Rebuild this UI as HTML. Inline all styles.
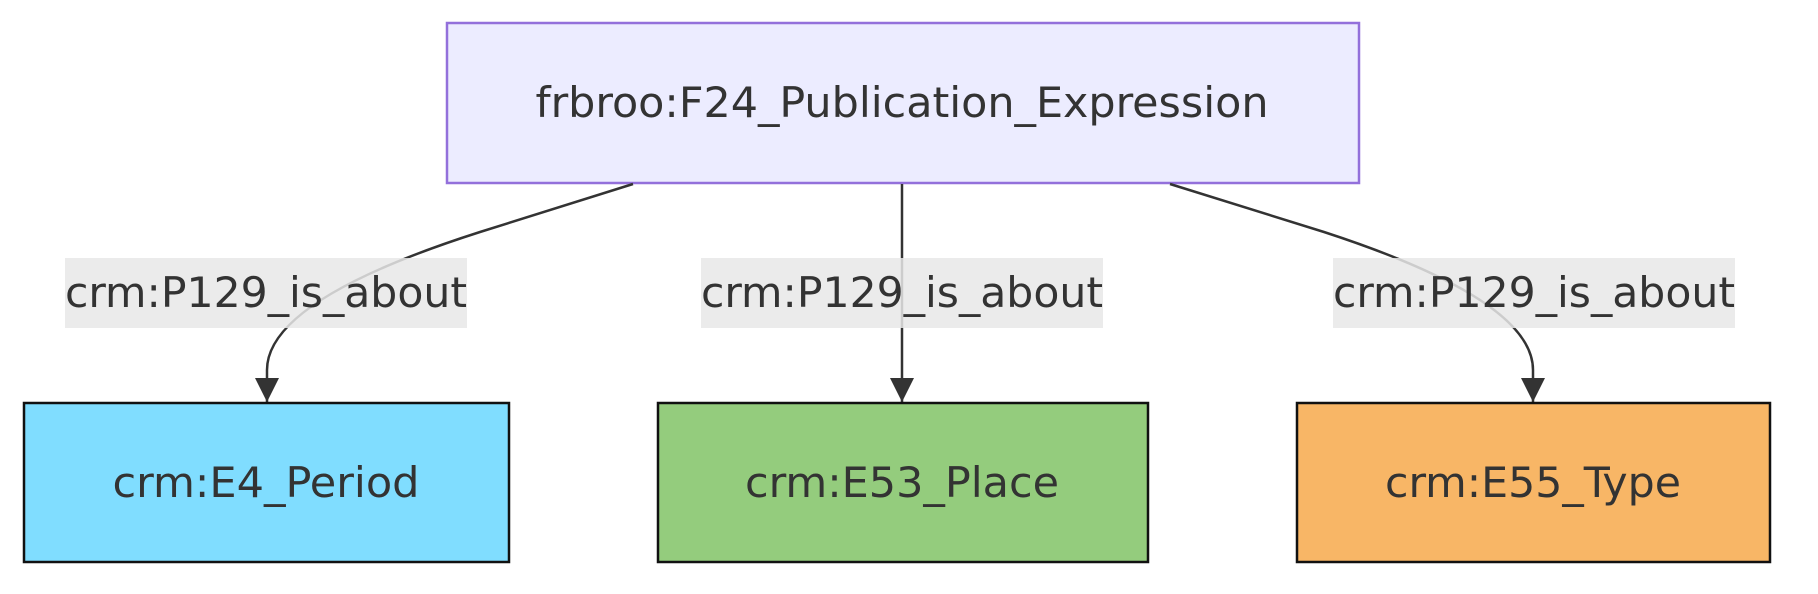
<!DOCTYPE html>
<html><head><meta charset="utf-8"><style>html,body{margin:0;padding:0;background:#fff;}svg{display:block}</style></head>
<body>
<svg width="1818" height="594" viewBox="0 0 1818 594" xmlns="http://www.w3.org/2000/svg" font-family="'DejaVu Sans Condensed', 'Liberation Sans', sans-serif" fill="#333">
<defs>
<marker id="b" viewBox="0 0 24 24" refX="24" refY="12" markerWidth="24" markerHeight="24" markerUnits="userSpaceOnUse" orient="auto"><path d="M0,0 L24,12 L0,24 z" fill="#333"/></marker></defs>
<rect x="447" y="23" width="912" height="160" fill="#ECECFF" stroke="#9370DB" stroke-width="2.5"/>
<text x="902" y="117" font-size="42" text-anchor="middle" textLength="733" lengthAdjust="spacingAndGlyphs">frbroo:F24_Publication_Expression</text>
<path d="M633,184 L480,232 Q267,300 267,370 L267,402" fill="none" stroke="#333" stroke-width="2.5" marker-end="url(#b)"/>
<path d="M902,184 L902,402" fill="none" stroke="#333" stroke-width="2.5" marker-end="url(#b)"/>
<path d="M1170,184 L1324,232 Q1533,300 1533,370 L1533,402" fill="none" stroke="#333" stroke-width="2.5" marker-end="url(#b)"/>
<g fill="rgba(232,232,232,0.85)"><rect x="65" y="258" width="402" height="70"/><rect x="701" y="258" width="402" height="70"/><rect x="1333" y="258" width="402" height="70"/></g>
<g font-size="42" text-anchor="middle">
<text x="266" y="307" textLength="402" lengthAdjust="spacingAndGlyphs">crm:P129_is_about</text>
<text x="902" y="307" textLength="402" lengthAdjust="spacingAndGlyphs">crm:P129_is_about</text>
<text x="1534" y="307" textLength="402" lengthAdjust="spacingAndGlyphs">crm:P129_is_about</text>
</g>
<rect x="24" y="403" width="485" height="159" fill="#80DDFF" stroke="#111" stroke-width="2.5"/>
<rect x="658" y="403" width="490" height="159" fill="#94CC7D" stroke="#111" stroke-width="2.5"/>
<rect x="1297" y="403" width="473" height="159" fill="#F8B666" stroke="#111" stroke-width="2.5"/>
<g font-size="42" text-anchor="middle">
<text x="266" y="497" textLength="307" lengthAdjust="spacingAndGlyphs">crm:E4_Period</text>
<text x="902" y="497" textLength="314" lengthAdjust="spacingAndGlyphs">crm:E53_Place</text>
<text x="1533" y="497" textLength="296" lengthAdjust="spacingAndGlyphs">crm:E55_Type</text>
</g>
</svg>
</body></html>
